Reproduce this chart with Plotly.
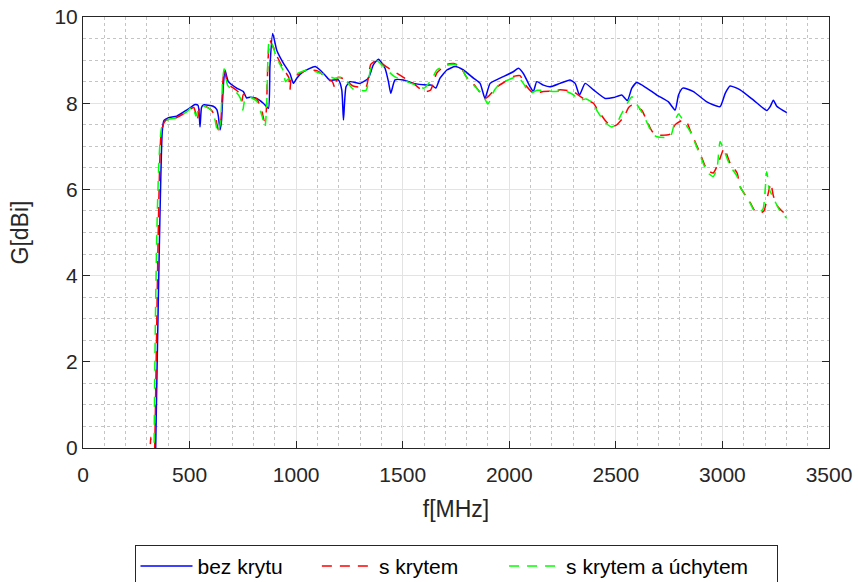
import plotly.graph_objects as go

# Gain vs frequency
f_bez = [340, 372, 380, 399, 440, 486, 526, 540, 549, 556, 565, 611, 628, 635, 643, 650, 658, 666,
         682, 721, 752, 768, 784, 815, 846, 870, 877, 890, 909, 940, 971, 987, 1003, 1034, 1089,
         1112, 1136, 1159, 1198, 1214, 1222, 1234, 1253, 1300, 1339, 1362, 1386, 1417, 1433, 1444,
         1464, 1503, 1550, 1613, 1636, 1655, 1675, 1707, 1746, 1785, 1832, 1863, 1886, 1910, 1957,
         2019, 2043, 2066, 2098, 2113, 2129, 2160, 2191, 2238, 2285, 2309, 2329, 2356, 2395, 2450,
         2489, 2528, 2554, 2575, 2598, 2645, 2692, 2747, 2778, 2794, 2814, 2864, 2927, 2989, 3013,
         3036, 3083, 3146, 3208, 3224, 3239, 3255, 3302]
g_bez = [-0.3, 7.35, 7.6, 7.66, 7.70, 7.84, 7.97, 7.95, 7.45, 7.9, 7.96, 7.93, 7.85, 7.7, 7.38, 7.6,
         8.38, 8.77, 8.5, 8.35, 8.27, 8.12, 8.14, 8.11, 8.0, 7.88, 8.85, 9.62, 9.23, 8.93, 8.69,
         8.46, 8.58, 8.73, 8.85, 8.77, 8.65, 8.53, 8.54, 8.31, 7.61, 8.38, 8.5, 8.46, 8.58, 8.89,
         9.02, 8.81, 8.5, 8.23, 8.54, 8.54, 8.46, 8.42, 8.42, 8.35, 8.58, 8.77, 8.85, 8.77, 8.58,
         8.46, 8.11, 8.46, 8.58, 8.73, 8.81, 8.69, 8.38, 8.27, 8.5, 8.42, 8.38, 8.46, 8.54, 8.46,
         8.19, 8.46, 8.31, 8.11, 8.13, 8.19, 8.06, 8.35, 8.48, 8.35, 8.19, 8.03, 7.84, 8.19, 8.35,
         8.27, 8.03, 7.92, 8.23, 8.40, 8.31, 8.07, 7.83, 7.92, 8.07, 7.93, 7.78]

f_kryt = [300, 318, 322, 335, 365, 380, 399, 440, 486, 520, 536, 548, 565, 600, 620, 635, 645, 655,
          662, 680, 720, 740, 746, 752, 784, 815, 840, 850, 858, 868, 877, 909, 940, 965, 971, 978,
          1003, 1050, 1100, 1140, 1170, 1182, 1195, 1230, 1267, 1328, 1350, 1380, 1422, 1487, 1520,
          1550, 1600, 1630, 1660, 1707, 1740, 1770, 1800, 1840, 1886, 1900, 1943, 1980, 2019, 2050,
          2080, 2113, 2160, 2210, 2238, 2300, 2347, 2395, 2410, 2450, 2481, 2505, 2540, 2560, 2575,
          2595, 2621, 2651, 2670, 2693, 2755, 2778, 2816, 2835, 2848, 2895, 2928, 2957, 2980, 3008,
          3036, 3069, 3083, 3130, 3150, 3176, 3195, 3210, 3227, 3239, 3260, 3290]
g_kryt = [-2.0, 0.25, -1.5, -0.3, 7.2, 7.55, 7.64, 7.67, 7.8, 7.9, 7.61, 7.9, 7.95, 7.85, 7.7, 7.38,
          7.5, 8.4, 8.79, 8.45, 8.3, 8.2, 8.05, 8.2, 8.14, 8.1, 7.8, 7.6, 7.7, 9.0, 9.45, 9.1, 8.8,
          8.6, 8.31, 8.6, 8.65, 8.77, 8.75, 8.6, 8.5, 8.35, 8.6, 8.55, 8.4, 8.38, 8.9, 9.0, 8.85,
          8.65, 8.55, 8.46, 8.27, 8.3, 8.7, 8.9, 8.92, 8.85, 8.6, 8.4, 8.11, 8.15, 8.38, 8.5, 8.62,
          8.64, 8.4, 8.23, 8.27, 8.28, 8.31, 8.27, 8.11, 8.0, 7.88, 7.6, 7.45, 7.5, 7.7, 7.9, 7.95,
          7.9, 7.84, 7.53, 7.35, 7.26, 7.28, 7.5, 7.61, 7.54, 7.38, 6.84, 6.45, 6.38, 6.6, 6.95,
          6.61, 6.38, 6.06, 5.7, 5.52, 5.45, 5.5, 5.8, 6.14, 5.85, 5.6, 5.45]

f_uchyt = [333, 370, 399, 440, 486, 515, 530, 545, 565, 600, 620, 632, 645, 655, 662, 680, 720, 740,
           750, 760, 784, 815, 840, 854, 862, 872, 880, 909, 940, 950, 960, 1003, 1050, 1100, 1140,
           1180, 1220, 1267, 1328, 1350, 1380, 1420, 1460, 1520, 1560, 1600, 1636, 1660, 1707, 1740,
           1770, 1800, 1840, 1875, 1900, 1930, 1957, 2000, 2040, 2066, 2098, 2130, 2160, 2210, 2260,
           2300, 2330, 2360, 2395, 2410, 2450, 2481, 2505, 2520, 2575, 2595, 2621, 2651, 2670, 2693,
           2755, 2778, 2794, 2816, 2848, 2895, 2928, 2957, 2975, 2989, 3008, 3036, 3069, 3083, 3130,
           3150, 3176, 3191, 3208, 3220, 3239, 3270, 3302]
g_uchyt = [-0.3, 7.45, 7.62, 7.66, 7.8, 7.92, 7.7, 7.9, 7.93, 7.85, 7.6, 7.31, 7.55, 8.5, 8.8, 8.4,
           8.25, 8.1, 7.84, 8.1, 8.14, 8.05, 7.7, 7.45, 8.0, 9.4, 9.45, 9.05, 8.75, 8.5, 8.55, 8.68,
           8.77, 8.72, 8.65, 8.58, 8.6, 8.33, 8.3, 8.8, 8.98, 8.8, 8.62, 8.5, 8.42, 8.35, 8.55, 8.77,
           8.88, 8.9, 8.85, 8.6, 8.38, 8.2, 7.98, 8.3, 8.45, 8.55, 8.62, 8.46, 8.23, 8.3, 8.3, 8.27,
           8.29, 8.2, 8.07, 8.1, 8.0, 7.84, 7.55, 7.45, 7.52, 7.69, 8.15, 8.0, 7.8, 7.5, 7.3, 7.22,
           7.22, 7.6, 7.75, 7.6, 7.35, 6.8, 6.4, 6.3, 6.5, 7.11, 6.9, 6.55, 6.3, 6.06, 5.68, 5.5,
           5.48, 5.55, 6.41, 6.0, 5.8, 5.5, 5.33]

TEXT = "#262626"
FONT = "Liberation Sans, Arial, sans-serif"
NB = "\u00a0"  # padding between legend entries, like the MATLAB legend

fig = go.Figure()
fig.add_trace(go.Scatter(x=f_bez, y=g_bez, mode="lines", name="bez krytu" + NB * 5,
                         line=dict(color="#0000ff", width=1.5, shape="spline", smoothing=0.5)))
fig.add_trace(go.Scatter(x=f_kryt, y=g_kryt, mode="lines", name="s krytem" + NB * 7,
                         line=dict(color="#ff0000", width=1.5, dash="10px,8px",
                                   shape="spline", smoothing=0.5)))
fig.add_trace(go.Scatter(x=f_uchyt, y=g_uchyt, mode="lines", name="s krytem a úchytem" + NB * 4,
                         line=dict(color="#00ff00", width=1.5, dash="10px,8px",
                                   shape="spline", smoothing=0.5)))

axis_common = dict(
    showline=True, linecolor=TEXT, linewidth=1, mirror="ticks",
    ticks="inside", ticklen=7, tickcolor=TEXT,
    showgrid=True, gridcolor="#e3e3e3", gridwidth=1, zeroline=False,
    tickfont=dict(size=21, color=TEXT), automargin=False,
)

fig.update_xaxes(range=[0, 3500], tick0=0, dtick=500, ticklabelstandoff=8,
                 title=dict(text="f[MHz]", font=dict(size=23, color=TEXT), standoff=15),
                 minor=dict(dtick=100, showgrid=True, gridcolor="#c4c4c4", griddash="dot"),
                 **axis_common)
fig.update_yaxes(range=[0, 10], tick0=0, dtick=2,
                 title=dict(text="G[dBi]", font=dict(size=23, color=TEXT), standoff=19),
                 minor=dict(dtick=0.5, showgrid=True, gridcolor="#c4c4c4", griddash="dot"),
                 **axis_common)

fig.update_layout(
    width=858, height=582,
    margin=dict(l=83, r=29, t=17, b=134, autoexpand=False),
    plot_bgcolor="white", paper_bgcolor="white",
    font=dict(family=FONT, color=TEXT),
    legend=dict(orientation="h", x=0.5, xanchor="center", y=-0.225, yanchor="top",
                bordercolor=TEXT, borderwidth=1, bgcolor="white",
                font=dict(size=21, color="black"), itemwidth=52),
)

# page body has a default 8px margin; drop it so the figure sits at the window corner
fig.write_html("out.html", config={"displayModeBar": False},
               post_script="document.body.style.margin='0px';")
